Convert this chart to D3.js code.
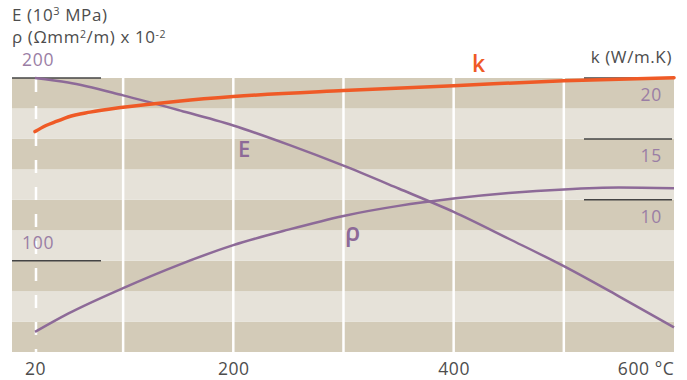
<!DOCTYPE html>
<html>
<head>
<meta charset="utf-8">
<script src="https://cdn.jsdelivr.net/npm/d3@7"></script>
<style>
  html, body { margin: 0; padding: 0; background: #ffffff; }
  svg { display: block; font-family: "Open Sans", "Noto Sans", sans-serif; }
</style>
</head>
<body>
<svg id="chart" width="687" height="380"></svg>
<script>
// Temperature (°C)
const temps = [20, 50, 100, 150, 200, 250, 300, 350, 400, 450, 500, 550, 600];
// Young's modulus E (10^3 MPa)
const modulusE = [200, 197.5, 190.5, 182.5, 174, 163.5, 152, 139.5, 126.7, 112, 97, 80.5, 63.5];
// Resistivity rho (Ωmm²/m x 10^-2)
const resistivity = [61, 71, 85, 97.6, 108.5, 117, 124.5, 130, 134, 137, 139, 140, 139.6];
// Thermal conductivity k (W/m.K)
const kTemps = [20, 30, 40, 50, 70, 100, 150, 200, 300, 400, 500, 600];
const conductivity = [15.6, 16.1, 16.45, 16.8, 17.2, 17.6, 18.1, 18.48, 18.97, 19.37, 19.78, 20.03];

const xTicks = [20, 200, 400, 600];
const xGrid = [100, 200, 300, 400, 500];
const leftTicks = [200, 100];
const rightTicks = [20, 15, 10];

const svg = d3.select("#chart");
const plot = { left: 12, right: 674, top: 78, bottom: 352 };

const x = d3.scaleLinear().domain([20, 600]).range([35, 674]);
const yLeft = d3.scaleLinear().domain([50, 200]).range([plot.bottom, plot.top]);
const yK = d3.scaleLinear().domain([-2.5, 20]).range([plot.bottom, plot.top]);

const purple = "#8d6a98";
const purpleText = "#9a7ea5";
const orange = "#ef5a26";
const textDark = "#4d4d4d";
const labelFont = "'Open Sans', sans-serif";

// alternating horizontal bands
const bandStep = 50 / 3;
const bandEdges = d3.range(50, 200, bandStep);
svg.append("g").selectAll("rect")
  .data(bandEdges)
  .join("rect")
  .attr("x", plot.left)
  .attr("width", plot.right - plot.left)
  .attr("y", d => yLeft(d + bandStep))
  .attr("height", d => yLeft(d) - yLeft(d + bandStep))
  .attr("fill", (d, i) => (bandEdges.length - 1 - i) % 2 === 0 ? "#d3cbb8" : "#e6e2d9");

// vertical white grid lines
svg.append("g").selectAll("line")
  .data(xGrid)
  .join("line")
  .attr("x1", d => x(d)).attr("x2", d => x(d))
  .attr("y1", plot.top).attr("y2", plot.bottom)
  .attr("stroke", "#ffffff").attr("stroke-width", 2.5);

// dashed line at 20 °C
svg.append("line")
  .attr("x1", x(20) + 1).attr("x2", x(20) + 1)
  .attr("y1", plot.top + 1).attr("y2", plot.bottom)
  .attr("stroke", "#ffffff").attr("stroke-width", 2.5)
  .attr("stroke-dasharray", "13 14");

// x axis labels
const xAxis = d3.axisBottom(x)
  .tickValues(xTicks)
  .tickSize(0)
  .tickPadding(0)
  .tickFormat(d => d === 600 ? "600 °C" : d);
const gx = svg.append("g")
  .attr("transform", `translate(0,${plot.bottom})`)
  .call(xAxis);
gx.select(".domain").remove();
gx.selectAll("text")
  .attr("y", 23)
  .attr("dy", 0)
  .attr("fill", textDark)
  .style("font-size", "17.5px")
  .style("font-family", labelFont)
  .style("letter-spacing", "0.6px")
  .attr("text-anchor", d => d === 600 ? "end" : "middle");

// left ticks (E / rho)
const gl = svg.append("g");
gl.selectAll("line")
  .data(leftTicks)
  .join("line")
  .attr("x1", plot.left).attr("x2", 101)
  .attr("y1", d => yLeft(d)).attr("y2", d => yLeft(d))
  .attr("stroke", "#444444").attr("stroke-width", 1.5);
gl.selectAll("text")
  .data(leftTicks)
  .join("text")
  .attr("x", 22)
  .attr("y", d => yLeft(d) - 12)
  .attr("fill", purpleText)
  .style("font-size", "17.5px")
  .style("letter-spacing", "0.8px")
  .text(d => d);

// right ticks (k)
const gr = svg.append("g");
gr.selectAll("line")
  .data(rightTicks)
  .join("line")
  .attr("x1", 584).attr("x2", 672)
  .attr("y1", d => yK(d)).attr("y2", d => yK(d))
  .attr("stroke", "#444444").attr("stroke-width", 1.5);
gr.selectAll("text")
  .data(rightTicks)
  .join("text")
  .attr("x", 662)
  .attr("y", d => yK(d) + 23)
  .attr("text-anchor", "end")
  .attr("fill", purpleText)
  .style("font-size", "17.5px")
  .style("letter-spacing", "0.8px")
  .text(d => d);

// curves
const lineLeft = vals => d3.line()
  .x((d, i) => x(temps[i]))
  .y(d => yLeft(d))
  .curve(d3.curveMonotoneX)(vals);

svg.append("path")
  .attr("d", lineLeft(modulusE))
  .attr("fill", "none").attr("stroke", purple).attr("stroke-width", 2.5);

svg.append("path")
  .attr("d", lineLeft(resistivity))
  .attr("fill", "none").attr("stroke", purple).attr("stroke-width", 2.5);

const lineK = d3.line()
  .x((d, i) => x(kTemps[i]))
  .y(d => yK(d))
  .curve(d3.curveMonotoneX);
svg.append("path")
  .attr("d", lineK(conductivity))
  .attr("fill", "none").attr("stroke", orange).attr("stroke-width", 3.5)
  .attr("stroke-linecap", "round");

// curve names
svg.append("text").attr("x", 238).attr("y", 157)
  .attr("fill", purple).style("font-size", "22px").style("font-weight", 600).text("E");
svg.append("text").attr("x", 345).attr("y", 241)
  .attr("fill", purple).style("font-size", "25px").style("font-weight", 600).text("ρ");
svg.append("text").attr("x", 472).attr("y", 72)
  .attr("fill", orange).style("font-size", "23px").style("font-weight", 600).text("k");

// axis titles
const titleSize = "17px";
const t1 = svg.append("text").attr("x", 12).attr("y", 21)
  .attr("fill", textDark).style("font-size", titleSize).style("letter-spacing", "0.6px");
t1.append("tspan").text("E (10");
t1.append("tspan").attr("dy", -6).style("font-size", "11px").text("3");
t1.append("tspan").attr("dy", 6).text(" MPa)");

const t2 = svg.append("text").attr("x", 12).attr("y", 43)
  .attr("fill", textDark).style("font-size", titleSize).style("letter-spacing", "0.6px");
t2.append("tspan").text("ρ (Ωmm");
t2.append("tspan").attr("dy", -5).style("font-size", "10.5px").text("2");
t2.append("tspan").attr("dy", 5).text("/m) x 10");
t2.append("tspan").attr("dy", -5).style("font-size", "10.5px").text("-2");

svg.append("text").attr("x", 672).attr("y", 63)
  .attr("text-anchor", "end")
  .attr("fill", textDark).style("font-size", titleSize).style("letter-spacing", "0.6px")
  .text("k (W/m.K)");
</script>
</body>
</html>
